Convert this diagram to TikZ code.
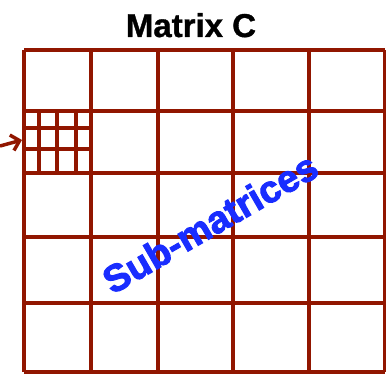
\documentclass[tikz,border=0pt]{standalone}
\usepackage{fontspec}
\setmainfont{Liberation Sans}
\newfontfamily\heavysans[FakeBold=2.5]{Liberation Sans Bold}
\newfontfamily\titlesans[FakeBold=1]{Liberation Sans Bold}
\usetikzlibrary{arrows.meta}
\definecolor{gridred}{RGB}{145,22,0}
\definecolor{subblue}{RGB}{25,45,255}
\begin{document}
\begin{tikzpicture}[x=1pt,y=-1pt,
  gridline/.style={draw=gridred,line width=4pt},
  fineline/.style={draw=gridred,line width=3.5pt},
  titletext/.style={font=\fontsize{33}{36}\titlesans,text=black,inner sep=0pt},
  subtext/.style={font=\fontsize{38}{40}\heavysans,text=subblue,inner sep=0pt}]
\useasboundingbox (0,0) rectangle (386,374);
% main grid
\foreach \x in {24,91,158,233,309,385}
  \draw[gridline] (\x,50) -- (\x,372);
\foreach \y in {50,111,173,237,303,372}
  \draw[gridline] (24,\y) -- (385,\y);
% fine sub-grid in one cell
\foreach \x in {39,57,76}
  \draw[fineline] (\x,111) -- (\x,173);
\foreach \y in {128,149}
  \draw[fineline] (24,\y) -- (91,\y);
% arrow
\coordinate (arrowstart) at (0,146);
\coordinate (arrowtip) at (22,140);
\draw[draw=gridred,line width=3.5pt,-{Straight Barb[length=8pt,width=16pt]}] (arrowstart) -- (arrowtip);
% texts
\node[titletext,anchor=base] (title) at (191,37) {Matrix C};
\node[subtext,rotate=30] (sub) at (210,223) {Sub-matrices};
\end{tikzpicture}
\end{document}
